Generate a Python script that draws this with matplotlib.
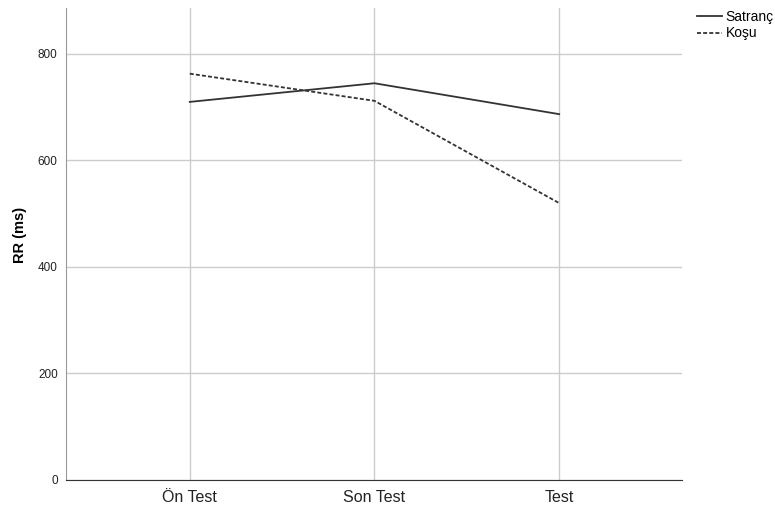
import matplotlib
matplotlib.use("Agg")
import matplotlib.pyplot as plt

plt.rcParams["font.family"] = ["Liberation Sans", "DejaVu Sans"]

categories = ["Ön Test", "Son Test", "Test"]
satranc = [710, 745, 687]
kosu = [763, 712, 520]
yticks = [0, 200, 400, 600, 800]

fig = plt.figure(figsize=(7.75, 5.11), dpi=100)
ax = fig.add_axes([0.0852, 0.0607, 0.7948, 0.9233])

x = list(range(len(categories)))
ax.plot(x, satranc, "-", color="#333333", lw=1.3, label="Satranç", zorder=3)
ax.plot(x, kosu, color="#333333", lw=1.3, ls=(0, (2.2, 1.2)), label="Koşu", zorder=3)

ax.set_xlim(-0.67, 2.665)
ax.set_ylim(0, 886)
ax.set_xticks(x)
ax.set_xticklabels(categories, fontsize=11.5, color="#222222")
ax.set_yticks(yticks)
ax.set_yticklabels([str(v) for v in yticks], fontsize=8.5, color="#222222")
ax.tick_params(length=0, pad=6)
ax.tick_params(axis="x", pad=7)
ax.grid(True, color="#cccccc", lw=1.0, zorder=0)
for s in ["top", "right"]:
    ax.spines[s].set_visible(False)
ax.spines["left"].set_color("#999999")
ax.spines["bottom"].set_color("#333333")
ax.set_ylabel("RR (ms)", fontsize=10.5, fontweight="bold")
ax.yaxis.set_label_coords(-0.063, 0.52)

ax.legend(loc="upper left", bbox_to_anchor=(691 / 775, 0.992),
          bbox_transform=fig.transFigure, frameon=False,
          fontsize=10, handlelength=1.8, handletextpad=0.3, labelspacing=0.2,
          borderaxespad=0)

fig.savefig("out.png", dpi=100)
